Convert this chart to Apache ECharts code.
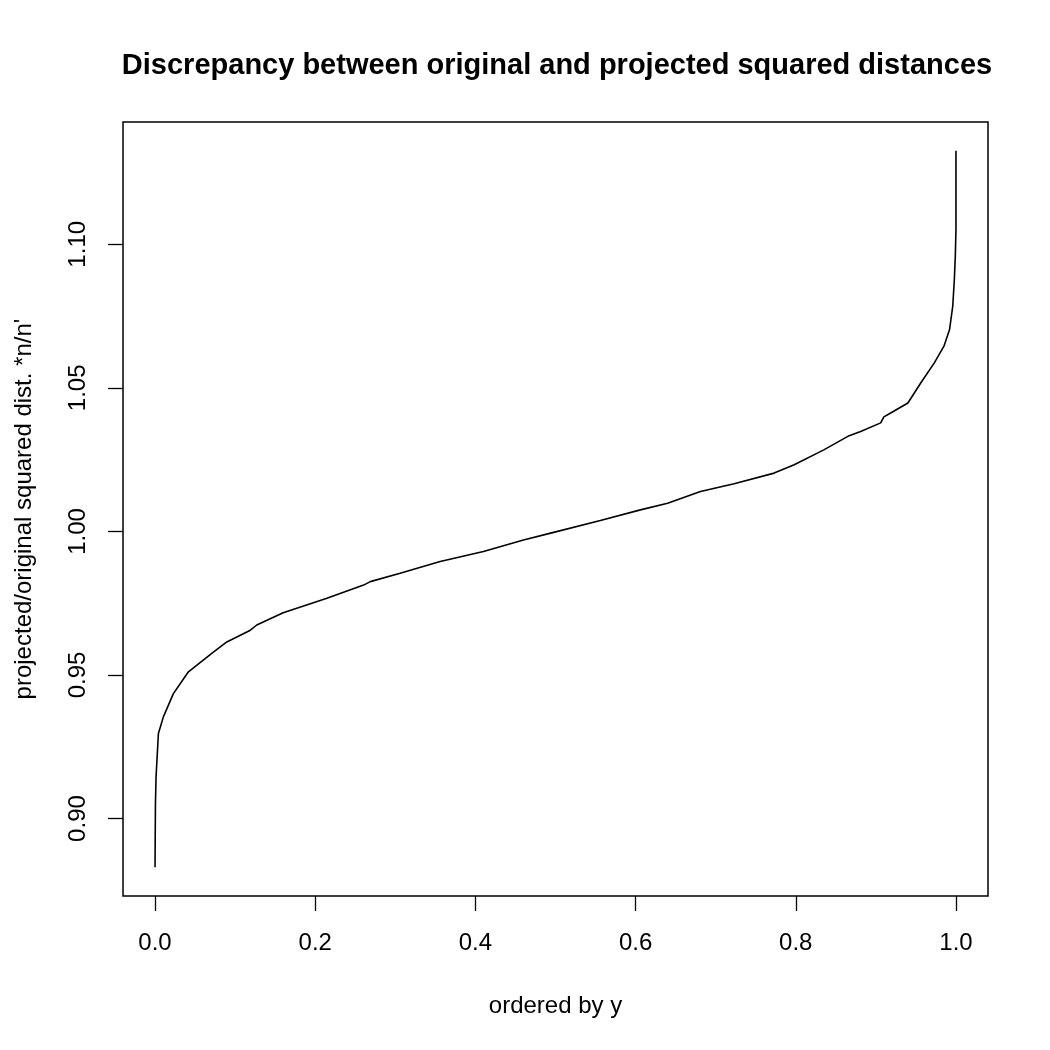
<!DOCTYPE html>
<html>
<head>
<meta charset="utf-8">
<script src="https://cdn.jsdelivr.net/npm/echarts@6/dist/echarts.min.js"></script>
<style>
  html, body { margin: 0; padding: 0; background: #fff; }
  #chart { width: 1050px; height: 1050px; }
</style>
</head>
<body>
<div id="chart"></div>
<script>
// Data (ordered ratios)
const xValues = [0, 0.0005, 0.00125, 0.0042, 0.0104, 0.0229, 0.0417, 0.0708, 0.0896, 0.119, 0.127,
  0.160, 0.2146, 0.2604, 0.2688, 0.306, 0.356, 0.410, 0.460, 0.494, 0.556, 0.606, 0.640, 0.681,
  0.723, 0.773, 0.798, 0.835, 0.865, 0.881, 0.906, 0.910, 0.919, 0.940, 0.956, 0.973, 0.985,
  0.992, 0.996, 0.998, 0.9992, 1.0, 1.0];
const yValues = [0.8830, 0.9050, 0.9144, 0.9296, 0.9354, 0.9435, 0.9511, 0.9575, 0.9615, 0.9656, 0.9674,
  0.9717, 0.9767, 0.9813, 0.9825, 0.9854, 0.9895, 0.9930, 0.9970, 0.9994, 1.0038, 1.0075, 1.0098, 1.0139,
  1.0166, 1.0203, 1.0232, 1.0284, 1.0331, 1.0348, 1.0378, 1.0399, 1.0413, 1.0447, 1.0517, 1.0587, 1.0645,
  1.0703, 1.0785, 1.0878, 1.0959, 1.1052, 1.1326];
const xTicks = [0, 0.2, 0.4, 0.6, 0.8, 1.0];
const yTicks = [0.90, 0.95, 1.00, 1.05, 1.10];

const titleText = 'Discrepancy between original and projected squared distances';
const xName = 'ordered by y';
const yName = "projected/original squared dist. *n/n'";

// R-style 4% axis padding
function pad(arr) {
  const lo = Math.min(...arr), hi = Math.max(...arr);
  const d = (hi - lo) * 0.04;
  return [lo - d, hi + d];
}
const [xMin, xMax] = pad(xValues);
const [yMin, yMax] = pad(yValues);

const seriesData = xValues.map((x, i) => [x, yValues[i]]);
const FONT = 'Liberation Sans, Arial, Helvetica, sans-serif';

const chart = echarts.init(document.getElementById('chart'), null, { renderer: 'canvas' });
chart.setOption({
  backgroundColor: '#ffffff',
  animation: false,
  title: {
    text: titleText,
    left: 552, textAlign: 'center',
    top: 46,
    textStyle: { fontFamily: FONT, fontSize: 29, fontWeight: 'bold', color: '#000' }
  },
  grid: {
    left: 123, right: 62, top: 122, bottom: 154,
    show: true, borderColor: '#000', borderWidth: 1.5, backgroundColor: 'transparent'
  },
  xAxis: {
    type: 'value', min: xMin, max: xMax,
    name: xName, nameLocation: 'middle', nameGap: 98,
    nameTextStyle: { fontFamily: FONT, fontSize: 24, color: '#000' },
    axisLine: { show: false, onZero: false },
    axisTick: { show: true, length: 15, inside: false, customValues: xTicks, lineStyle: { color: '#000', width: 1.3 } },
    axisLabel: { customValues: xTicks, formatter: v => v.toFixed(1), margin: 35,
      fontFamily: FONT, fontSize: 24, color: '#000' },
    splitLine: { show: false }
  },
  yAxis: {
    type: 'value', min: yMin, max: yMax,
    name: yName, nameLocation: 'middle', nameGap: 87, nameRotate: 90,
    nameTextStyle: { fontFamily: FONT, fontSize: 24, color: '#000' },
    axisLine: { show: false, onZero: false },
    axisTick: { show: true, length: 15, inside: false, customValues: yTicks, lineStyle: { color: '#000', width: 1.3 } },
    axisLabel: { customValues: yTicks, formatter: v => v.toFixed(2), rotate: 90, margin: 33,
      fontFamily: FONT, fontSize: 24, color: '#000' },
    splitLine: { show: false }
  },
  series: [{
    type: 'line',
    data: seriesData,
    showSymbol: false,
    smooth: false,
    lineStyle: { color: '#000', width: 1.6 }
  }]
});
</script>
</body>
</html>
